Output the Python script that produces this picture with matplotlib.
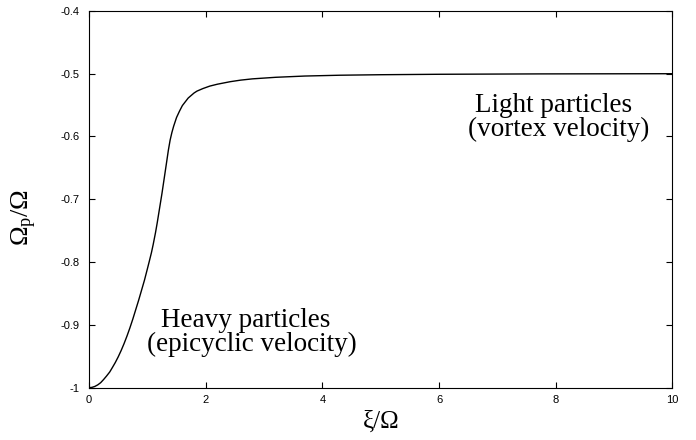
import matplotlib
matplotlib.use("Agg")
import matplotlib.pyplot as plt

# pattern speed vs friction
xi = [0, 0.05, 0.1, 0.15, 0.2, 0.25, 0.3, 0.355, 0.4, 0.45, 0.5, 0.55, 0.6,
      0.65, 0.7, 0.75, 0.8, 0.85, 0.9, 0.95, 1.0, 1.03, 1.07, 1.1, 1.14,
      1.17, 1.21, 1.25, 1.29, 1.33, 1.36, 1.39, 1.42, 1.45, 1.5, 1.55, 1.6,
      1.65, 1.7, 1.75, 1.8, 1.85, 1.95, 2.07, 2.2, 2.42, 2.6, 2.8, 3.2, 3.7,
      4.3, 5.0, 6.0, 7.7, 10]
omega_p = [-1, -0.9995, -0.998, -0.9955, -0.992, -0.987, -0.9815, -0.975,
           -0.968, -0.96, -0.951, -0.941, -0.93, -0.918, -0.905, -0.891,
           -0.876, -0.861, -0.845, -0.829, -0.811, -0.8, -0.785, -0.772,
           -0.753, -0.737, -0.714, -0.691, -0.666, -0.641, -0.622, -0.606,
           -0.594, -0.584, -0.57, -0.56, -0.551, -0.545, -0.539, -0.535,
           -0.531, -0.528, -0.524, -0.52, -0.517, -0.513, -0.5105, -0.5085,
           -0.506, -0.504, -0.5027, -0.5019, -0.5012, -0.5006, -0.5003]

xticks = [0, 2, 4, 6, 8, 10]
yticks = [-1, -0.9, -0.8, -0.7, -0.6, -0.5, -0.4]
yticklabels = ["-1", "-0.9", "-0.8", "-0.7", "-0.6", "-0.5", "-0.4"]

plt.rcParams["mathtext.fontset"] = "custom"
plt.rcParams["mathtext.rm"] = "Liberation Serif"
plt.rcParams["mathtext.it"] = "Liberation Serif:italic"

fig = plt.figure(figsize=(6.96, 4.40), dpi=100)
ax = fig.add_axes([0.1279, 0.1189, 0.8383, 0.8568])

ax.plot(xi, omega_p, color="black", lw=1.0, solid_joinstyle="round")

ax.set_xlim(0, 10)
ax.set_ylim(-1, -0.4)
ax.set_xticks(xticks)
ax.set_xticklabels([str(t) for t in xticks])
ax.set_yticks(yticks)
ax.set_yticklabels(yticklabels)
ax.tick_params(direction="in", length=4, width=0.8, top=True, right=True,
               labelsize=8, colors="black")
ax.tick_params(axis="y", pad=7)
ax.tick_params(axis="x", pad=5)
for lab in ax.get_xticklabels() + ax.get_yticklabels():
    lab.set_family("Liberation Sans")
for sp in ax.spines.values():
    sp.set_linewidth(0.8)

serif = "Liberation Serif"
ax.set_xlabel("ξ/Ω", family=serif, fontsize=18, labelpad=4)
fig.text(0.035, 0.507, r"Ω$_{\mathrm{p}}$/Ω", family=serif, fontsize=19,
         rotation=90, ha="center", va="center")

ax.text(1.229, -0.904, "Heavy particles", family=serif, fontsize=19.5,
        ha="left", va="baseline")
ax.text(1.0, -0.9416, "(epicyclic velocity)", family=serif, fontsize=19.5,
        ha="left", va="baseline")
ax.text(6.617, -0.5607, "Light particles", family=serif, fontsize=19.5,
        ha="left", va="baseline")
ax.text(6.503, -0.5994, "(vortex velocity)", family=serif, fontsize=19.5,
        ha="left", va="baseline")

fig.savefig("out.png", dpi=100)
